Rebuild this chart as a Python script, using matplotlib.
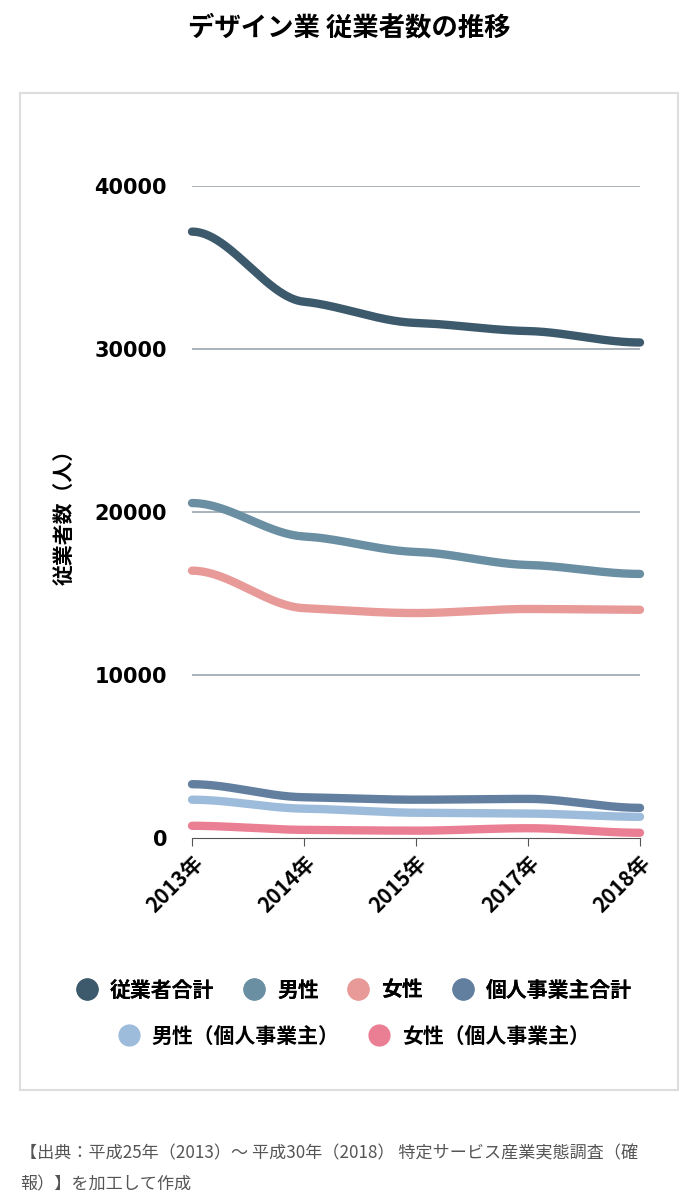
import numpy as np
import matplotlib.pyplot as plt
from matplotlib.patches import Rectangle
from matplotlib.lines import Line2D

plt.rcParams['font.family'] = ['Noto Sans CJK JP', 'DejaVu Sans']

years = ['2013年', '2014年', '2015年', '2017年', '2018年']
names = ['従業者合計', '男性', '女性', '個人事業主合計', '男性（個人事業主）', '女性（個人事業主）']
total = [37200, 32900, 31600, 31100, 30400]
male = [20550, 18500, 17550, 16750, 16200]
female = [16400, 14100, 13800, 14050, 14000]
indiv_total = [3300, 2500, 2350, 2400, 1850]
indiv_male = [2350, 1800, 1550, 1500, 1300]
indiv_female = [750, 500, 450, 600, 320]
colors = ['#3d5a6c', '#6a8fa3', '#e89a98', '#627fa0', '#9dbbdb', '#ea7f94']
series = [total, male, female, indiv_total, indiv_male, indiv_female]


def smooth(x, y, xs, k_tan=0.25):
    # 各点で傾きを弱めた3次エルミート曲線（描画用）
    x = np.asarray(x, float); y = np.asarray(y, float)
    h = np.diff(x); d = np.diff(y) / h
    m = np.zeros_like(y)
    for k in range(1, len(y) - 1):
        if d[k - 1] * d[k] > 0:
            m[k] = k_tan * (d[k - 1] + d[k]) / 2
    out = []
    for v in xs:
        k = min(np.searchsorted(x, v, side='right') - 1, len(x) - 2)
        t = (v - x[k]) / h[k]
        h00 = 2*t**3 - 3*t**2 + 1; h10 = t**3 - 2*t**2 + t
        h01 = -2*t**3 + 3*t**2; h11 = t**3 - t**2
        out.append(h00*y[k] + h10*h[k]*m[k] + h01*y[k+1] + h11*h[k]*m[k+1])
    return np.array(out)


fig = plt.figure(figsize=(6.98, 12), dpi=100)
fig.patches.append(Rectangle((20/698, 1-1090/1200), 658/698, 997/1200,
                             transform=fig.transFigure, fill=False,
                             edgecolor='#dddddd', linewidth=1.5))
fig.text(0.5, 1-28/1200, 'デザイン業 従業者数の推移', ha='center', va='center',
         fontsize=19, fontweight='bold')

ax = fig.add_axes([192/698, 1-838/1200, 448/698, 652/1200])
x = np.arange(len(years))
xs = np.linspace(0, len(years) - 1, 400)
for s, c in zip(series, colors):
    ax.plot(xs, smooth(x, s, xs), color=c, linewidth=6, solid_capstyle='round',
            clip_on=False, zorder=3)

ax.set_xlim(0, len(years) - 1)
ax.set_ylim(0, 40000)
ax.set_yticks([0, 10000, 20000, 30000, 40000])
ax.set_yticklabels(['0', '10000', '20000', '30000', '40000'], fontsize=15,
                   fontweight='bold', family='DejaVu Sans')
for v in [10000, 20000, 30000, 40000]:
    ax.axhline(v, color='#9aa6ad', linewidth=1.2, zorder=1)
ax.set_xticks(x)
ax.set_xticklabels(years, rotation=45, ha='right', rotation_mode='anchor',
                   fontsize=15, fontweight='bold')
ax.tick_params(axis='y', length=0, pad=18)
ax.tick_params(axis='x', length=6, color='#555555', pad=4)
for side in ['top', 'right', 'left']:
    ax.spines[side].set_visible(False)
ax.spines['bottom'].set_color('#555555')
ax.set_ylabel('従業者数（人）', fontsize=15, fontweight='bold', labelpad=14)

handles = [Line2D([], [], marker='o', linestyle='', markersize=15, color=c) for c in colors]
leg1 = fig.legend(handles[:4], names[:4], loc='center', bbox_to_anchor=(0.5, 1-990/1200),
                  ncol=4, frameon=False, handletextpad=0.1, columnspacing=0.9,
                  prop={'size': 15, 'weight': 'bold'})
fig.legend(handles[4:], names[4:], loc='center', bbox_to_anchor=(0.5, 1-1036/1200),
           ncol=2, frameon=False, handletextpad=0.1, columnspacing=0.9,
           prop={'size': 15, 'weight': 'bold'})
fig.add_artist(leg1)

fig.text(20/698, 1-1153/1200, '【出典：平成25年（2013）～ 平成30年（2018） 特定サービス産業実態調査（確',
         fontsize=12.3, color='#555555', va='center')
fig.text(20/698, 1-1184/1200, '報）】を加工して作成', fontsize=12.3, color='#555555', va='center')

fig.savefig('out.png', dpi=100)
